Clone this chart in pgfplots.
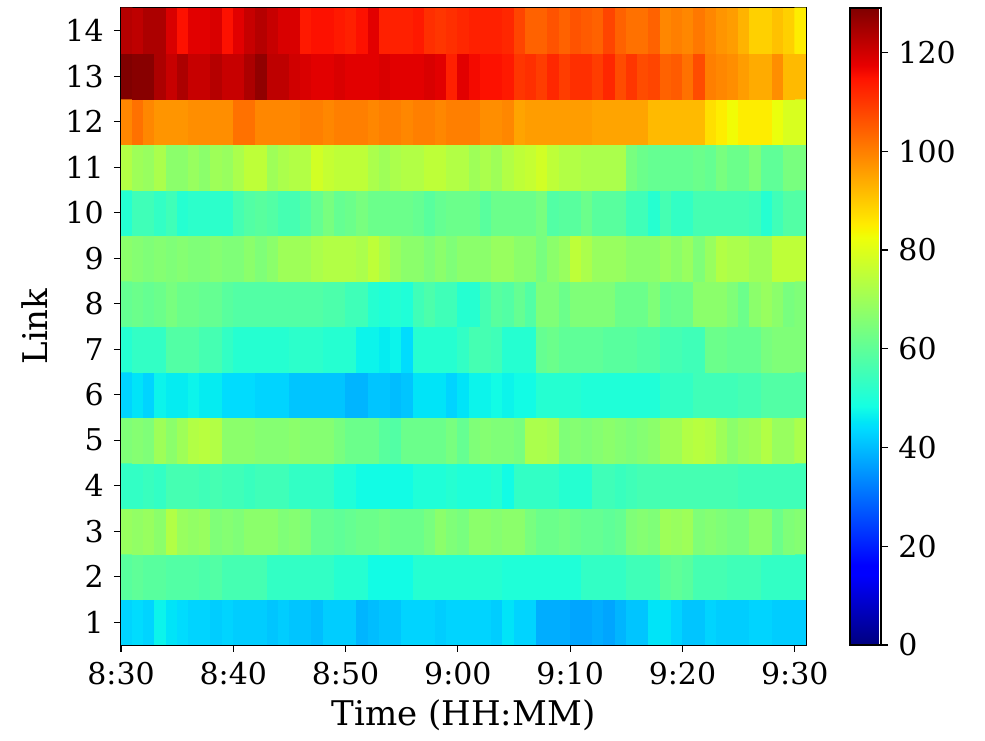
\documentclass[border=0pt]{standalone}
\usepackage{fontspec}
\setmainfont{DejaVu Serif}
\usepackage{pgfplots}
\pgfplotsset{compat=1.18}
\pgfplotsset{
  /pgf/number format/assume math mode=true,
  colormap={mpljet}{rgb(0pt)=(0,0,0.5); rgb(110pt)=(0,0,1); rgb(125pt)=(0,0,1); rgb(340pt)=(0,0.86,1); rgb(350pt)=(0,0.9,0.968); rgb(375pt)=(0.081,1,0.887); rgb(640pt)=(0.935,1,0.032); rgb(650pt)=(0.968,0.963,0); rgb(660pt)=(1,0.926,0); rgb(890pt)=(1,0.074,0); rgb(910pt)=(0.909,0,0); rgb(1000pt)=(0.5,0,0)}
}
\begin{document}
\fontsize{15}{18}\selectfont
\begin{tikzpicture}
\begin{axis}[
  name=main,
  scale only axis,
  width=342.5pt, height=318.5pt,
  xmin=0, xmax=61, ymin=0.5, ymax=14.5,
  xtick={0,10,20,30,40,50,60},
  xticklabels={8:30,8:40,8:50,9:00,9:10,9:20,9:30},
  ytick={1,2,...,14},
  tick pos=left,
  tick align=outside,
  major tick length=3.5pt,
  every tick/.style={black, line width=0.6pt},
  axis line style={line width=0.6pt},
  xlabel={Time (HH:MM)},
  ylabel={Link},
  label style={font=\fontsize{17}{20}\selectfont},
  xlabel style={yshift=3pt},
  ylabel style={yshift=-1pt},
  colormap name=mpljet,
  point meta min=0, point meta max=129,
  colorbar,
  colorbar style={
    width=15.5pt,
    at={(parent axis.north east)}, anchor=north west, xshift=13.5pt,
    ytick={0,20,40,60,80,100,120},
    ytick pos=right,
    tick align=outside,
    major tick length=3.5pt,
    yticklabel pos=right,
    every tick/.style={black, line width=0.6pt},
    axis line style={line width=0.6pt},
  },
]
\addplot[matrix plot*, mesh/cols=61, point meta=explicit]
 table[header=false, row sep=\\, x expr={mod(\coordindex,61)+0.5}, y expr={floor((\coordindex+0.5)/61)+1}, meta index=0] {
43\\44\\43\\47\\45\\44\\43\\43\\42\\43\\42\\42\\42\\41\\42\\41\\41\\40\\42\\42\\42\\39\\40\\41\\41\\43\\43\\43\\42\\43\\43\\43\\43\\42\\45\\43\\43\\38\\38\\38\\37\\37\\38\\37\\39\\41\\41\\45\\45\\43\\41\\41\\43\\42\\42\\42\\43\\43\\42\\42\\42\\
59\\60\\59\\59\\58\\58\\58\\57\\58\\56\\56\\56\\56\\53\\53\\53\\53\\53\\53\\51\\51\\51\\48\\48\\48\\48\\51\\51\\51\\51\\51\\51\\51\\51\\50\\50\\50\\50\\50\\50\\50\\53\\53\\53\\53\\55\\55\\55\\59\\60\\59\\56\\56\\56\\55\\55\\55\\53\\53\\53\\53\\
69\\68\\69\\67\\73\\69\\68\\69\\65\\66\\65\\67\\67\\67\\65\\66\\65\\61\\61\\60\\61\\62\\62\\63\\62\\62\\62\\64\\67\\65\\64\\67\\67\\66\\67\\67\\64\\62\\62\\63\\62\\61\\61\\60\\61\\65\\66\\65\\70\\69\\70\\65\\66\\65\\64\\64\\67\\67\\62\\65\\66\\
53\\53\\54\\53\\56\\56\\56\\55\\56\\55\\55\\54\\55\\55\\55\\53\\53\\53\\53\\50\\50\\48\\48\\48\\48\\48\\50\\50\\50\\51\\50\\50\\50\\51\\48\\53\\53\\53\\53\\51\\51\\51\\55\\55\\54\\55\\56\\56\\56\\56\\56\\56\\56\\56\\56\\55\\55\\55\\55\\55\\55\\
65\\66\\65\\70\\67\\70\\73\\74\\73\\67\\67\\67\\66\\66\\66\\67\\66\\66\\66\\64\\62\\62\\62\\59\\58\\62\\62\\62\\62\\64\\61\\65\\66\\65\\65\\64\\72\\72\\71\\65\\66\\65\\66\\67\\66\\65\\66\\67\\70\\70\\73\\74\\73\\70\\67\\69\\70\\73\\69\\69\\72\\
43\\45\\43\\47\\46\\46\\47\\46\\46\\44\\44\\44\\43\\43\\43\\41\\41\\41\\41\\41\\39\\39\\41\\41\\40\\41\\45\\45\\45\\43\\45\\47\\47\\48\\47\\48\\48\\51\\51\\51\\51\\50\\50\\50\\50\\50\\50\\50\\53\\53\\53\\55\\55\\55\\55\\56\\56\\58\\58\\58\\58\\
51\\53\\53\\53\\58\\58\\58\\56\\56\\53\\51\\51\\51\\51\\51\\52\\52\\52\\51\\51\\51\\47\\47\\46\\47\\44\\51\\51\\51\\51\\53\\56\\56\\55\\51\\51\\51\\61\\62\\60\\60\\60\\60\\59\\59\\59\\58\\58\\56\\56\\55\\55\\62\\62\\61\\61\\61\\64\\65\\65\\65\\
61\\62\\61\\62\\64\\62\\62\\61\\61\\59\\58\\58\\58\\58\\58\\58\\58\\58\\57\\57\\55\\55\\51\\50\\51\\50\\55\\57\\55\\55\\51\\51\\56\\59\\58\\61\\58\\65\\65\\62\\65\\65\\65\\65\\62\\62\\62\\65\\61\\62\\62\\67\\67\\67\\65\\62\\67\\69\\67\\64\\65\\
67\\66\\65\\66\\65\\66\\65\\65\\66\\65\\65\\67\\65\\67\\70\\70\\70\\72\\73\\73\\73\\72\\75\\72\\69\\67\\67\\65\\67\\65\\67\\67\\67\\69\\69\\67\\67\\64\\67\\69\\75\\72\\69\\69\\69\\67\\67\\67\\69\\67\\69\\65\\69\\73\\72\\72\\70\\70\\75\\75\\75\\
51\\55\\55\\53\\55\\51\\52\\52\\52\\52\\56\\58\\59\\58\\56\\56\\58\\61\\64\\61\\62\\64\\62\\62\\62\\62\\61\\59\\61\\62\\62\\62\\59\\62\\62\\62\\62\\64\\58\\59\\59\\62\\59\\59\\59\\55\\55\\51\\56\\53\\53\\56\\56\\56\\56\\56\\55\\51\\55\\58\\58\\
73\\70\\69\\72\\67\\67\\69\\67\\70\\69\\72\\75\\75\\70\\72\\73\\73\\78\\76\\75\\75\\75\\72\\70\\72\\73\\73\\75\\75\\73\\73\\70\\72\\70\\73\\75\\76\\78\\75\\73\\73\\72\\72\\72\\72\\64\\62\\61\\61\\61\\61\\62\\61\\64\\62\\62\\65\\60\\60\\64\\64\\
99\\102\\99\\97\\97\\97\\98\\98\\98\\98\\102\\102\\99\\99\\99\\99\\100\\100\\99\\100\\100\\100\\99\\100\\100\\99\\100\\100\\99\\100\\100\\100\\98\\98\\99\\95\\96\\96\\96\\96\\96\\96\\95\\95\\95\\95\\95\\92\\92\\92\\92\\92\\87\\85\\83\\85\\85\\85\\82\\79\\79\\
129\\128\\128\\124\\121\\124\\121\\121\\123\\121\\121\\124\\127\\122\\122\\120\\119\\118\\118\\119\\118\\118\\118\\119\\118\\118\\118\\119\\118\\113\\118\\116\\115\\115\\114\\110\\111\\109\\112\\109\\111\\111\\109\\112\\107\\110\\107\\108\\104\\105\\102\\107\\100\\99\\98\\96\\94\\94\\98\\92\\92\\
123\\122\\124\\124\\119\\115\\118\\118\\119\\115\\118\\121\\123\\121\\119\\119\\114\\115\\115\\114\\113\\115\\118\\113\\113\\113\\114\\111\\110\\111\\112\\113\\113\\113\\112\\108\\104\\104\\106\\104\\106\\105\\104\\108\\104\\102\\102\\104\\99\\100\\99\\101\\99\\97\\96\\93\\89\\89\\91\\89\\85\\
};
\end{axis}
\path (main.south west) ++(-60.5pt,-46pt) rectangle ++(492.5pt,368.5pt);
\end{tikzpicture}
\end{document}
